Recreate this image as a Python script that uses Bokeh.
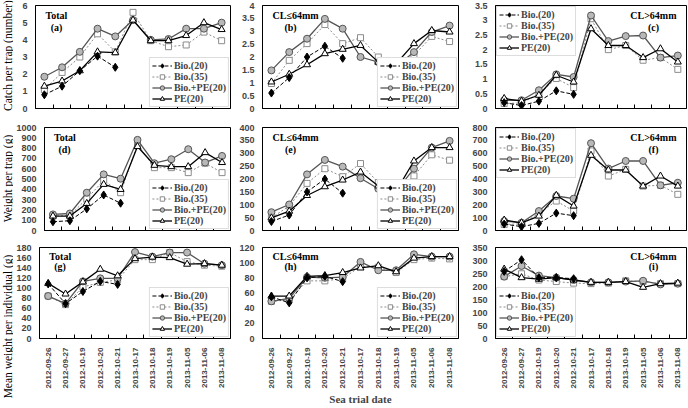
import numpy as np
from bokeh.plotting import figure
from bokeh.layouts import column, row
from bokeh.models import (Range1d, FixedTicker, CustomJSTickFormatter, Legend,
                          LegendItem, Label)
from bokeh.core.properties import value
from bokeh.embed import file_html
from bokeh.resources import INLINE

dates = ["2012-09-26", "2012-09-27", "2012-10-19", "2012-10-20", "2012-10-21",
         "2013-10-17", "2013-10-18", "2013-10-19", "2013-11-05", "2013-11-06",
         "2013-11-08"]
series_names = ["Bio.(20)", "Bio.(35)", "Bio.+PE(20)", "PE(20)"]

# (a) catch per trap, total
ct_bio20 = [0.8, 1.3, 2.2, 3.05, 2.4]
ct_bio35 = [1.1, 2.1, 3.0, 4.35, 3.3, 5.6, 3.95, 3.6, 3.7, 4.45, 3.95]
ct_biope = [1.85, 2.4, 3.3, 4.65, 4.2, 5.15, 4.0, 4.05, 4.65, 4.65, 5.0]
ct_pe = [1.3, 1.6, 2.2, 3.3, 3.25, 5.15, 3.95, 3.95, 4.25, 5.0, 4.6]
# (b) catch per trap, CL<=64mm
cs_bio20 = [0.6, 1.2, 2.0, 2.42, 1.95]
cs_bio35 = [0.97, 1.87, 2.52, 3.26, 2.52, 2.75, 2.0, 1.5, 2.06, 2.8, 2.6]
cs_biope = [1.48, 2.19, 2.71, 3.48, 3.1, 2.0, 1.8, 1.62, 2.19, 2.97, 3.22]
cs_pe = [1.03, 1.33, 1.7, 2.13, 2.3, 2.45, 1.8, 1.74, 2.52, 3.03, 2.97]
# (c) catch per trap, CL>64mm
cl_bio20 = [0.2, 0.1, 0.25, 0.6, 0.48]
cl_bio35 = [0.17, 0.19, 0.5, 1.02, 0.71, 3.05, 2.0, 2.14, 1.64, 1.73, 1.33]
cl_biope = [0.28, 0.28, 0.62, 1.16, 1.07, 3.16, 2.29, 2.46, 2.48, 1.73, 1.8]
cl_pe = [0.34, 0.25, 0.45, 1.13, 0.9, 2.71, 2.14, 2.14, 1.73, 2.03, 1.58]
# (d) weight per trap, total
wt_bio20 = [85, 95, 210, 345, 265]
wt_bio35 = [140, 146, 308, 487, 367, 838, 610, 610, 562, 653, 562]
wt_biope = [156, 165, 367, 545, 503, 880, 653, 692, 789, 660, 724]
wt_pe = [140, 140, 263, 448, 399, 815, 633, 620, 620, 756, 660]
# (e) weight per trap, CL<=64mm
ws_bio20 = [35, 60, 150, 200, 145]
ws_bio35 = [49, 95, 183, 240, 209, 260, 186, 147, 212, 294, 273]
ws_biope = [71, 101, 218, 274, 248, 203, 162, 153, 240, 322, 348]
ws_pe = [49, 75, 136, 170, 196, 227, 173, 153, 270, 322, 322]
# (f) weight per trap, CL>64mm
wl_bio20 = [50, 30, 55, 135, 115]
wl_bio35 = [47, 52, 132, 229, 151, 618, 423, 475, 345, 351, 281]
wl_biope = [73, 60, 151, 268, 247, 678, 481, 540, 540, 351, 371]
wl_pe = [81, 60, 112, 273, 190, 584, 470, 470, 345, 423, 345]
# (g) mean weight per individual, total
mt_bio20 = [108, 69, 93, 113, 107]
mt_bio35 = [84, 67, 102, 111, 116, 156, 156, 170, 152, 145, 143]
mt_biope = [84, 69, 113, 119, 119, 171, 162, 170, 170, 148, 145]
mt_pe = [109, 88, 112, 137, 124, 158, 161, 160, 147, 148, 145]
# (h) mean weight per individual, CL<=64mm
ms_bio20 = [55, 47, 80, 82, 75]
ms_bio35 = [49, 51, 76, 76, 79, 95, 94, 87, 104, 106, 105]
ms_biope = [49, 53, 81, 80, 81, 101, 90, 90, 111, 108, 108]
ms_pe = [56, 56, 82, 83, 87, 93, 96, 88, 106, 108, 108]
# (i) mean weight per individual, CL>64mm
ml_bio20 = [258, 303, 234, 234, 230]
ml_bio35 = [238, 249, 225, 219, 213, 211, 213, 222, 219, 211, 211]
ml_biope = [238, 279, 242, 234, 225, 216, 216, 219, 222, 208, 211]
ml_pe = [267, 234, 228, 234, 225, 216, 216, 219, 197, 211, 213]

row_titles = ["Catch per trap (number)", "Weight per trap (g)",
              "Mean weight per individual (g)"]
x_title = "Sea trial date"

panels = [
    # row, col, data, ymax, step, group, letter, legend location
    (0, 0, [ct_bio20, ct_bio35, ct_biope, ct_pe], 6, 1, "Total", "(a)", "bottom_right"),
    (0, 1, [cs_bio20, cs_bio35, cs_biope, cs_pe], 4, 0.5, "CL\u226464mm", "(b)", "bottom_right"),
    (0, 2, [cl_bio20, cl_bio35, cl_biope, cl_pe], 3.5, 0.5, "CL>64mm", "(c)", "top_left"),
    (1, 0, [wt_bio20, wt_bio35, wt_biope, wt_pe], 1000, 100, "Total", "(d)", "bottom_right"),
    (1, 1, [ws_bio20, ws_bio35, ws_biope, ws_pe], 400, 50, "CL\u226464mm", "(e)", "bottom_right"),
    (1, 2, [wl_bio20, wl_bio35, wl_biope, wl_pe], 800, 100, "CL>64mm", "(f)", "top_left"),
    (2, 0, [mt_bio20, mt_bio35, mt_biope, mt_pe], 180, 20, "Total", "(g)", "bottom_right"),
    (2, 1, [ms_bio20, ms_bio35, ms_biope, ms_pe], 120, 20, "CL\u226464mm", "(h)", "bottom_right"),
    (2, 2, [ml_bio20, ml_bio35, ml_biope, ml_pe], 350, 50, "CL>64mm", "(i)", "bottom_left"),
]

styles = [
    dict(color="black", dash="4 2", marker="diamond", fill="black", edge="black", size=8, lw=1.0),
    dict(color="#8c8c8c", dash="2 2", marker="square", fill="white", edge="#8c8c8c", size=6, lw=1.0),
    dict(color="#555555", dash="solid", marker="circle", fill="#b8b8b8", edge="#555555", size=7, lw=1.3),
    dict(color="black", dash="solid", marker="triangle", fill="white", edge="black", size=7, lw=1.3),
]
draw_order = [1, 2, 3, 0]

TITLE_W = 13
TOTAL_H = 408
col_w = [236 - TITLE_W, 226, 226]
col_bl = [35 - TITLE_W, 26, 33]
col_br = [6, 4, 2]
frame_w = [195, 196, 191]
row_h = [118, 120, 170]
row_bt = [5, 9, 9]
row_bb = [10, 8, 58]
frame_h = 103
title_centre = [55, 178, 326]   # vertical centre of each row title, px from the top

SANS = "Liberation Sans"
SERIF = "Liberation Serif"

n = len(dates)
xs = [i + 0.5 for i in range(n)]

# strip holding the rotated row titles
tfig = figure(width=TITLE_W, height=TOTAL_H, output_backend="svg",
              toolbar_location=None, x_range=Range1d(0, TITLE_W),
              y_range=Range1d(0, TOTAL_H), min_border=0)
tfig.axis.visible = False
tfig.grid.visible = False
tfig.outline_line_color = None
tfig.background_fill_color = "white"
tfig.border_fill_color = "white"
tfig.text(x=[7.5] * 3, y=[TOTAL_H - t for t in title_centre], text=row_titles,
          angle=np.pi / 2, text_align="center", text_baseline="middle",
          text_font=value(SERIF), text_font_size="11.5px", text_color="black")

figs = [[None] * 3 for _ in range(3)]
for (r, c, data, ymax, step, group, letter, loc) in panels:
    p = figure(width=col_w[c], height=row_h[r], output_backend="svg",
               toolbar_location=None, x_range=Range1d(0, n),
               y_range=Range1d(0, ymax),
               min_border_left=col_bl[c], min_border_right=col_br[c],
               min_border_top=row_bt[r], min_border_bottom=row_bb[r])
    p.background_fill_color = "white"
    p.border_fill_color = "white"
    p.outline_line_color = "black"
    p.outline_line_width = 1
    p.xgrid.visible = False
    p.ygrid.visible = False

    # x axis
    xa = p.xaxis[0]
    xa.ticker = FixedTicker(ticks=xs, minor_ticks=list(range(1, n)))
    xa.major_tick_line_color = None
    xa.minor_tick_in = 4
    xa.minor_tick_out = 0
    xa.minor_tick_line_color = "black"
    xa.axis_line_color = "black"
    if r == 2:
        xa.major_label_overrides = {x: d for x, d in zip(xs, dates)}
        xa.major_label_orientation = np.pi / 2
        xa.major_label_text_font = SANS
        xa.major_label_text_font_style = "bold"
        xa.major_label_text_font_size = "8px"
        xa.major_label_standoff = 3
        xa.axis_label = x_title
        xa.axis_label_text_font = SERIF
        xa.axis_label_text_font_style = "bold"
        xa.axis_label_text_font_size = "11px"
        xa.axis_label_standoff = 2
        if c != 1:
            xa.axis_label_text_alpha = 0
    else:
        xa.major_label_overrides = {x: "" for x in xs}
        xa.major_label_text_font_size = "1px"
        xa.major_label_standoff = 0

    # y axis
    ya = p.yaxis[0]
    ya.ticker = FixedTicker(ticks=list(np.arange(0, ymax + step / 2, step)))
    ya.formatter = CustomJSTickFormatter(code="return String(Math.round(tick*100)/100)")
    ya.major_tick_line_color = None
    ya.minor_tick_line_color = None
    ya.axis_line_color = "black"
    ya.major_label_text_font = SANS
    ya.major_label_text_font_style = "bold"
    ya.major_label_text_font_size = "9px"
    ya.major_label_standoff = 2

    # series
    rends = {}
    for k in draw_order:
        st = styles[k]
        ys = data[k]
        xk = xs[:len(ys)]
        lr = p.line(xk, ys, line_color=st["color"], line_dash=st["dash"],
                    line_width=st["lw"])
        sr = p.scatter(xk, ys, marker=st["marker"], size=st["size"],
                       fill_color=st["fill"], line_color=st["edge"], line_width=1)
        rends[k] = [lr, sr]
    items = [LegendItem(label=series_names[k], renderers=rends[k]) for k in range(4)]
    leg = Legend(items=items, location=loc, margin=1, padding=2, spacing=0,
                 label_text_font=SERIF, label_text_font_style="bold",
                 label_text_font_size="10px", label_height=11, glyph_height=11,
                 glyph_width=20, label_standoff=2,
                 border_line_color="#bbbbbb", border_line_width=1,
                 background_fill_color="white", background_fill_alpha=1)
    p.add_layout(leg, "center")

    # panel tags
    px2x = n / frame_w[c]
    def ydat(off):
        return ymax * (1 - off / frame_h)
    tag_kw = dict(text_font=SERIF, text_font_style="bold", text_font_size="10px",
                  text_color="black", text_baseline="middle")
    if c == 0:
        p.add_layout(Label(x=10 * px2x, y=ydat(10), text=group, text_align="left", **tag_kw))
        p.add_layout(Label(x=21 * px2x, y=ydat(22), text=letter, text_align="center", **tag_kw))
    elif c == 1:
        p.add_layout(Label(x=10 * px2x, y=ydat(10), text=group, text_align="left", **tag_kw))
        p.add_layout(Label(x=28 * px2x, y=ydat(22), text=letter, text_align="center", **tag_kw))
    else:
        p.add_layout(Label(x=n - 10 * px2x, y=ydat(10), text=group, text_align="right", **tag_kw))
        p.add_layout(Label(x=n - 33 * px2x, y=ydat(22), text=letter, text_align="center", **tag_kw))
    figs[r][c] = p

grid = column(*[row(*figs[r]) for r in range(3)])
layout = row(tfig, grid)
open("out.html", "w").write(file_html(layout, INLINE))
